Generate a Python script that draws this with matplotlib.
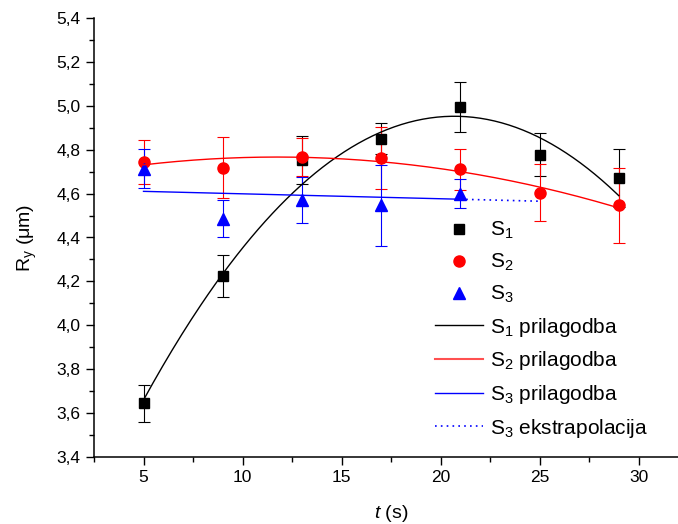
import numpy as np
import matplotlib
matplotlib.use("Agg")
import matplotlib.pyplot as plt
from matplotlib.ticker import MultipleLocator, FuncFormatter
from matplotlib.lines import Line2D

plt.rcParams['font.family'] = ['Liberation Sans', 'DejaVu Sans']
plt.rcParams['mathtext.fontset'] = 'custom'
plt.rcParams['mathtext.rm'] = 'Liberation Sans'
plt.rcParams['mathtext.it'] = 'Liberation Sans:italic'

# === podaci ===
t = [5, 9, 13, 17, 21, 25, 29]
s1 = [3.645, 4.225, 4.752, 4.851, 4.994, 4.778, 4.671]
s1_err = [0.085, 0.095, 0.11, 0.071, 0.114, 0.097, 0.13]
s2 = [4.742, 4.718, 4.767, 4.762, 4.71, 4.604, 4.546]
s2_err = [0.10, 0.14, 0.085, 0.14, 0.095, 0.13, 0.17]
t3 = [5, 9, 13, 17, 21]
s3 = [4.714, 4.485, 4.569, 4.546, 4.60]
s3_err = [0.088, 0.085, 0.105, 0.185, 0.066]
t3_extra = [21, 25]

fig = plt.figure(figsize=(6.78, 5.24), dpi=100)
ax = fig.add_axes([94 / 678, 1 - 457 / 524, 594 / 678, (457 - 18) / 524])

# === tocke s pogreskama ===
ax.errorbar(t, s1, yerr=s1_err, fmt='s', color='black', ms=7, capsize=4,
            elinewidth=0.8, capthick=0.8, zorder=3)
ax.errorbar(t, s2, yerr=s2_err, fmt='o', color='red', ms=8, capsize=4,
            elinewidth=0.8, capthick=0.8, zorder=3)
ax.errorbar(t3, s3, yerr=s3_err, fmt='^', color='blue', ms=8, capsize=4,
            elinewidth=0.8, capthick=0.8, zorder=3)

# === prilagodbe (tezinske, w = 1/sigma) ===
p1 = np.polyfit(t, s1, 2, w=1 / np.array(s1_err))
p2 = np.polyfit(t, s2, 2, w=1 / np.array(s2_err))
p3 = np.polyfit(t3, s3, 1, w=1 / np.array(s3_err))
xf = np.linspace(t[0], t[-1], 200)
xf3 = np.linspace(t3[0], t3[-1], 50)
xe3 = np.linspace(t3_extra[0], t3_extra[1], 20)
ax.plot(xf, np.polyval(p1, xf), color='black', lw=1, zorder=4)
ax.plot(xf, np.polyval(p2, xf), color='red', lw=1, zorder=4)
ax.plot(xf3, np.polyval(p3, xf3), color='blue', lw=1, zorder=4)
ax.plot(xe3, np.polyval(p3, xe3), color='blue', lw=1.2, ls=(0, (1, 2.5)), zorder=4)

ax.set_xlim(2.5, 32.5)
ax.set_ylim(3.4, 5.4)
ax.xaxis.set_major_locator(MultipleLocator(5))
ax.xaxis.set_minor_locator(MultipleLocator(2.5))
ax.yaxis.set_major_locator(MultipleLocator(0.2))
ax.yaxis.set_minor_locator(MultipleLocator(0.1))
ax.yaxis.set_major_formatter(FuncFormatter(lambda v, p: f"{v:.1f}".replace('.', ',')))
ax.xaxis.set_major_formatter(FuncFormatter(lambda v, p: f"{v:g}"))
ax.tick_params(which='major', direction='out', length=6, width=1, labelsize=12.5)
ax.tick_params(which='minor', direction='out', length=3.5, width=1)
for side in ['top', 'right']:
    ax.spines[side].set_visible(False)
for side in ['left', 'bottom']:
    ax.spines[side].set_linewidth(1.1)

ax.set_xlabel('$\\it{t}$ (s)', fontsize=14, labelpad=13)
ax.set_ylabel('R$_\\mathregular{y}$ (μm)', fontsize=14, labelpad=13)

handles = [
    Line2D([], [], ls='none', marker='s', color='black', ms=7),
    Line2D([], [], ls='none', marker='o', color='red', ms=8),
    Line2D([], [], ls='none', marker='^', color='blue', ms=8),
    Line2D([], [], color='black', lw=1),
    Line2D([], [], color='#ff5050', lw=1.5),
    Line2D([], [], color='blue', lw=1),
    Line2D([], [], color='blue', lw=1.2, ls=(0, (1, 2.5))),
]
labels = ['S$_\\mathregular{1}$', 'S$_\\mathregular{2}$', 'S$_\\mathregular{3}$',
          'S$_\\mathregular{1}$ prilagodba', 'S$_\\mathregular{2}$ prilagodba',
          'S$_\\mathregular{3}$ prilagodba', 'S$_\\mathregular{3}$ ekstrapolacija']
fig.legend(handles, labels, loc='upper left', bbox_to_anchor=(435 / 678, 1 - 220 / 524),
           frameon=False, fontsize=15, handlelength=2.3, handletextpad=0.35,
           labelspacing=0.51, borderpad=0, borderaxespad=0)

plt.savefig('out.png', dpi=100)
